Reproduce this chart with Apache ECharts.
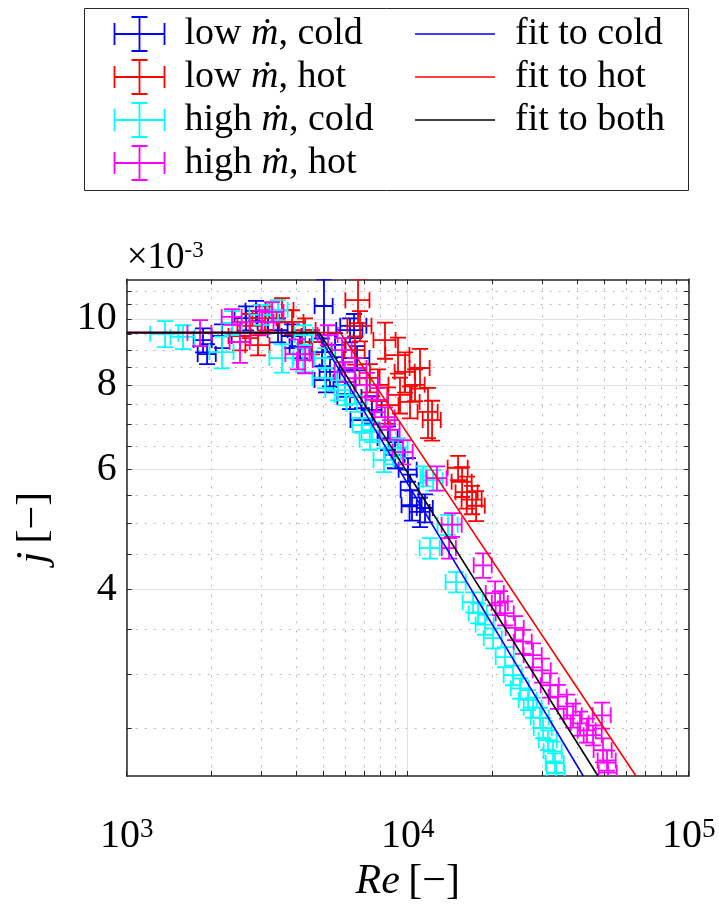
<!DOCTYPE html>
<html><head><meta charset="utf-8">
<script src="https://cdn.jsdelivr.net/npm/echarts@6/dist/echarts.min.js"></script>
<style>html,body{margin:0;padding:0;background:#fff}#c{width:719px;height:907px}</style>
</head><body><div id="c"></div>
<script>
const FONT = "'Liberation Serif', 'DejaVu Serif', serif";

// Tick values
const xMajorTicks = [1000, 10000, 100000];
const xMinorTicks = [2000,3000,4000,5000,6000,7000,8000,9000,20000,30000,40000,50000,60000,70000,80000,90000];
const yMajorTicks = [4, 6, 8, 10];          // j in units of 1e-3
const yMinorTicks = [2.5,3,3.5,4.5,5,5.5,6.5,7,7.5,8.5,9,9.5,10.5,11];

const errNames = ['low ṁ, cold', 'low ṁ, hot', 'high ṁ, cold', 'high ṁ, hot'];
const fitNames = ['fit to cold', 'fit to hot', 'fit to both'];

// [Re, j (x1e-3), ±dRe, ±dj]
const lowCold = [
 [1869,9.31,138,0.38],[1932,8.88,143,0.30],[2184,9.44,179,0.38],[2659,10.03,240,0.41],
 [2885,10.28,237,0.35],[3184,9.90,261,0.37],[3455,9.63,283,0.39],[3876,9.44,318,0.38],
 [4138,9.12,339,0.37],[5036,10.45,372,0.99],[4956,8.94,406,0.42],[5291,8.36,434,0.40],
 [6233,9.63,664,0.39],[6602,8.76,704,0.36],[5121,8.13,462,0.33],[6233,7.68,613,0.31],
 [6878,7.10,620,0.29],[7462,7.35,612,0.35],[10025,6.00,740,0.24],[10190,5.60,752,0.30],
 [10359,5.32,849,0.27],[11060,5.20,907,0.26],[11524,5.27,756,0.25],[8509,6.68,698,0.27],
 [6441,9.77,687,0.40],[9012,6.31,739,0.28],[5513,9.16,497,0.37],[5984,8.08,540,0.33]
];
const lowHot = [
 [2531,9.44,228,0.45],[2747,9.77,270,0.40],[3107,10.03,306,0.41],[3571,10.31,351,0.42],
 [3876,9.90,381,0.40],[4312,9.63,389,0.39],[4567,9.25,375,0.38],[2933,9.15,289,0.31],
 [6656,10.66,655,0.80],[8303,9.31,749,0.57],[9236,8.85,909,0.54],[9786,8.36,802,0.57],
 [10620,8.00,871,0.43],[11810,7.30,968,0.62],[8509,7.47,767,0.46],[7837,8.00,707,0.43],
 [6495,9.00,533,0.43],[7340,8.19,602,0.39],[9389,7.73,924,0.47],[6766,9.77,666,0.50],
 [10190,7.55,836,0.41],[15110,6.04,1239,0.25],[15615,5.76,1280,0.29],[16265,5.56,1467,0.30],
 [16947,5.42,1390,0.26],[17510,5.31,1292,0.27],[11060,8.47,907,0.57],[12209,7.10,901,0.48]
];
const highCold = [
 [1369,9.51,157,0.42],[1586,9.41,156,0.38],[2184,8.94,215,0.48],[2371,9.87,194,0.40],
 [3032,10.14,298,0.34],[3455,10.31,283,0.35],[3571,8.76,351,0.42],[4241,8.70,348,0.35],
 [4276,9.47,315,0.32],[5080,8.76,417,0.30],[5080,8.19,500,0.28],[5650,7.86,556,0.27],
 [6602,7.50,541,0.20],[6878,6.98,508,0.17],[8234,6.20,675,0.25],[7462,6.82,612,0.23],
 [8865,6.37,582,0.26],[9236,6.46,757,0.22],[11336,5.87,232,0.20],[12310,5.79,1009,0.20],
 [13913,4.98,1141,0.17],[12010,4.60,985,0.16],[14864,4.10,1219,0.14],[17085,3.83,1401,0.13],
 [17799,3.69,1314,0.125],[18846,3.55,1391,0.12],[20129,3.39,1486,0.115],[22204,3.18,1639,0.108],
 [23706,2.99,1750,0.10],[25110,2.86,1853,0.097],[26810,2.75,1979,0.093],[27928,2.68,2061,0.091],
 [29580,2.59,2183,0.088],[30317,2.50,2237,0.085],[31577,2.40,2330,0.081],[32899,2.31,2428,0.078],
 [33449,2.22,2469,0.075],[33730,2.15,2489,0.073],[5984,7.73,491,0.26],[7340,6.64,602,0.22]
];
const highHot = [
 [1824,9.54,179,0.42],[2531,9.25,208,0.63],[3032,9.90,298,0.40],[3290,10.24,324,0.35],
 [4071,8.88,401,0.45],[4312,8.70,283,0.38],[2371,10.07,194,0.27],[5205,9.47,427,0.32],
 [6495,8.47,639,0.29],[7162,8.00,705,0.33],[7774,7.60,701,0.31],[8303,7.17,681,0.24],
 [5838,9.00,479,0.37],[9623,6.37,789,0.26],[12713,5.83,1042,0.24],[14385,4.98,1180,0.20],
 [14034,4.60,805,0.16],[18541,4.34,1368,0.18],[20465,3.95,1510,0.16],[21310,3.82,1398,0.155],
 [22204,3.69,1639,0.15],[24102,3.51,1779,0.143],[25736,3.35,1899,0.136],[27928,3.20,2061,0.13],
 [30071,3.04,2219,0.124],[32100,2.89,2369,0.118],[34273,2.78,2529,0.113],[36901,2.69,2723,0.109],
 [38762,2.61,2861,0.106],[41040,2.54,3029,0.103],[43466,2.48,3208,0.101],[45660,2.44,3370,0.083],
 [49143,2.61,3627,0.115],[49545,2.32,3657,0.094],[51205,2.24,3779,0.076],[51623,2.15,3810,0.073],
 [8650,6.87,709,0.23],[5984,8.36,491,0.28]
];

// Piecewise fits: [Re, j (x1e-3)]
const fitCold = [[1000,9.55],[4750,9.55],[42170,2.125]];
const fitHot  = [[1000,9.55],[5750,9.55],[64930,2.125]];
const fitBoth = [[1000,9.55],[4850,9.55],[47560,2.125]];

const X_MIN = 1000, X_MAX = 100000, Y_MIN = 2.125, Y_MAX = 11.44;
const errColors = ['#0000ff', '#ff0000', '#00ffff', '#ff00ff'];
const fitColors = ['#0000ff', '#ff0000', '#000000'];
const AX = '#262626';

function errRender(color) {
  return function (params, api) {
    const x = api.value(0), y = api.value(1), dx = api.value(2), dy = api.value(3);
    const c = api.coord([x, y]);
    const l = api.coord([x - dx, y]), r = api.coord([x + dx, y]);
    const t = api.coord([x, y + dy]), b = api.coord([x, y - dy]);
    const cap = 8;
    const st = { stroke: color, lineWidth: 1.8 };
    const seg = (x1, y1, x2, y2) => ({ type: 'line', shape: { x1, y1, x2, y2 }, style: st });
    return { type: 'group', children: [
      seg(l[0], c[1], r[0], c[1]),
      seg(l[0], c[1] - cap, l[0], c[1] + cap),
      seg(r[0], c[1] - cap, r[0], c[1] + cap),
      seg(c[0], t[1], c[0], b[1]),
      seg(c[0] - cap, t[1], c[0] + cap, t[1]),
      seg(c[0] - cap, b[1], c[0] + cap, b[1])
    ]};
  };
}

const ERR_ICON = 'path://M0,17L50,17M0,6L0,28M50,6L50,28M25,0L25,34M17,0L33,0M17,34L33,34';
const LINE_ICON = 'path://M0,0L80,0L80,1.6L0,1.6Z';

const supRich = {
  b: { fontFamily: FONT, fontSize: 40, color: '#000', lineHeight: 40 },
  s: { fontFamily: FONT, fontSize: 27, color: '#000', lineHeight: 19, verticalAlign: 'top' }
};

const legendText = {
  fontFamily: FONT, fontSize: 38, color: '#000', lineHeight: 40, padding: [0, 0, 0, 15],
  rich: { i: { fontFamily: FONT, fontSize: 38, fontStyle: 'italic', color: '#000' } }
};

const errSeriesData = [lowCold, lowHot, highCold, highHot];
const fitSeriesData = [fitCold, fitHot, fitBoth];

const series = [];
errSeriesData.forEach((d, i) => series.push({
  type: 'custom', name: errNames[i], data: d, renderItem: errRender(errColors[i]),
  encode: { x: 0, y: 1 }, itemStyle: { color: errColors[i] }, clip: true, z: 2,
  xAxisIndex: 0, yAxisIndex: 0
}));
fitSeriesData.forEach((d, i) => series.push({
  type: 'line', name: fitNames[i], data: d, symbol: 'none', showSymbol: false, clip: true, z: 3,
  lineStyle: { color: fitColors[i], width: 1.6 }, itemStyle: { color: fitColors[i] },
  xAxisIndex: 0, yAxisIndex: 0
}));

const chart = echarts.init(document.getElementById('c'), null, { renderer: 'canvas' });
chart.setOption({
  animation: false,
  backgroundColor: '#fff',
  grid: { left: 126.7, top: 279.3, width: 562, height: 496.7, containLabel: false, outerBoundsMode: 'none' },
  graphic: [{
    type: 'rect', z: 0, shape: { x: 84.5, y: 8.5, width: 604, height: 182 },
    style: { fill: '#fff', stroke: AX, lineWidth: 1 }
  }],
  legend: [{
    orient: 'vertical', left: 107, top: 9, itemWidth: 50, itemHeight: 34, itemGap: 3,
    selectedMode: false, z: 5, symbolKeepAspect: true,
    data: errNames.map((n, i) => ({ name: n, icon: ERR_ICON,
      itemStyle: { color: 'none', borderColor: errColors[i], borderWidth: 1.8 } })),
    textStyle: legendText,
    formatter: n => n.replace('ṁ', '{i|ṁ}')
  }, {
    orient: 'vertical', left: 410, top: 9, itemWidth: 80, itemHeight: 34, itemGap: 3,
    selectedMode: false, z: 5, symbolKeepAspect: true,
    data: fitNames.map((n, i) => ({ name: n, icon: LINE_ICON,
      itemStyle: { color: fitColors[i], borderWidth: 0 } })),
    textStyle: legendText
  }],
  xAxis: [{
    type: 'log', logBase: 10, min: X_MIN, max: X_MAX, position: 'bottom',
    axisLine: { show: true, onZero: false, lineStyle: { color: AX, width: 1.5 } },
    axisTick: { show: true, inside: true, length: 5, customValues: xMajorTicks, lineStyle: { color: AX } },
    axisLabel: { show: true, customValues: xMajorTicks, margin: 40,
      formatter: v => '{b|10}{s|' + Math.round(Math.log10(v)) + '}', rich: supRich },
    splitLine: { show: true, lineStyle: { color: '#e0e0e0', width: 1 } },
    minorTick: { show: false }, minorSplitLine: { show: false },
    name: '{i|Re}{n|\u2009[−]}', nameLocation: 'middle', nameGap: 80,
    nameTextStyle: { rich: {
      i: { fontFamily: FONT, fontSize: 42, fontStyle: 'italic', color: '#000' },
      n: { fontFamily: FONT, fontSize: 42, color: '#000' } } }
  }, {
    type: 'log', logBase: 10, min: X_MIN, max: X_MAX, position: 'bottom',
    axisLine: { show: false, onZero: false },
    axisTick: { show: true, inside: true, length: 5, customValues: xMinorTicks, lineStyle: { color: AX } },
    axisLabel: { show: false },
    splitLine: { show: true, lineStyle: { color: '#b8b8b8', width: 1, type: [2, 7] } }
  }, {
    type: 'log', logBase: 10, min: X_MIN, max: X_MAX, position: 'top',
    axisLine: { show: true, onZero: false, lineStyle: { color: AX, width: 1.5 } },
    axisTick: { show: true, inside: true, length: 5, customValues: xMajorTicks.concat(xMinorTicks), lineStyle: { color: AX } },
    axisLabel: { show: false }, splitLine: { show: false }
  }],
  yAxis: [{
    type: 'log', logBase: 10, min: Y_MIN, max: Y_MAX, position: 'left',
    axisLine: { show: true, onZero: false, lineStyle: { color: AX, width: 1.5 } },
    axisTick: { show: true, inside: true, length: 5, customValues: yMajorTicks, lineStyle: { color: AX } },
    axisLabel: { show: true, customValues: yMajorTicks, margin: 10, fontFamily: FONT, fontSize: 40, color: '#000',
      formatter: v => String(Math.round(v)) },
    splitLine: { show: true, lineStyle: { color: '#e0e0e0', width: 1 } },
    name: '{a|×10}{s|-3}', nameLocation: 'end', nameGap: 3,
    nameTextStyle: { align: 'left', verticalAlign: 'bottom', rich: {
      a: { fontFamily: FONT, fontSize: 37, color: '#000', lineHeight: 37 },
      s: { fontFamily: FONT, fontSize: 23, color: '#000', lineHeight: 16, verticalAlign: 'top' } } }
  }, {
    type: 'log', logBase: 10, min: Y_MIN, max: Y_MAX, position: 'left',
    axisLine: { show: false, onZero: false },
    axisTick: { show: true, inside: true, length: 5, customValues: yMinorTicks, lineStyle: { color: AX } },
    axisLabel: { show: false },
    splitLine: { show: true, lineStyle: { color: '#b8b8b8', width: 1, type: [2, 7] } },
    name: '{i|j}{n|\u2009[−]}', nameLocation: 'middle', nameGap: 72, nameRotate: 90,
    nameTextStyle: { rich: {
      i: { fontFamily: FONT, fontSize: 42, fontStyle: 'italic', color: '#000' },
      n: { fontFamily: FONT, fontSize: 42, color: '#000' } } }
  }, {
    type: 'log', logBase: 10, min: Y_MIN, max: Y_MAX, position: 'right',
    axisLine: { show: true, onZero: false, lineStyle: { color: AX, width: 1.5 } },
    axisTick: { show: true, inside: true, length: 5, customValues: yMajorTicks.concat(yMinorTicks), lineStyle: { color: AX } },
    axisLabel: { show: false }, splitLine: { show: false }
  }],
  series: series
});
</script></body></html>
